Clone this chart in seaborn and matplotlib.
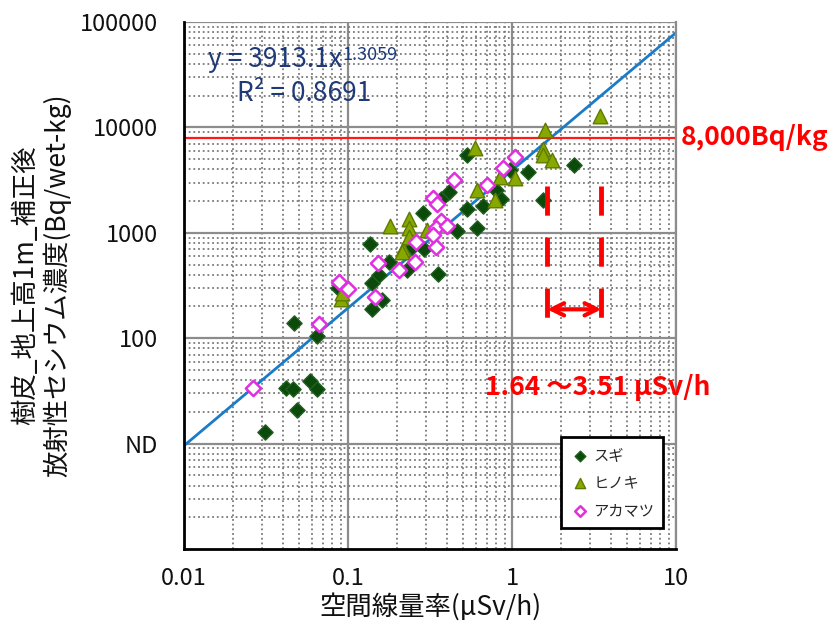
import numpy as np
import pandas as pd
import matplotlib
matplotlib.use('Agg')
import matplotlib.pyplot as plt
import seaborn as sns
from matplotlib.ticker import LogLocator, NullFormatter

sns.set_theme(style="white")
plt.rcParams['font.family'] = ['Noto Sans CJK JP', 'DejaVu Sans']

# スギ
sugi_x = [0.031, 0.047, 0.042, 0.046, 0.049, 0.059, 0.065, 0.065, 0.087, 0.137,
          0.140, 0.155, 0.161, 0.140, 0.177, 0.230, 0.292, 0.356, 0.245, 0.288,
          0.415, 0.37, 0.463, 0.614, 0.530, 0.662, 0.795, 0.86, 0.533, 0.973,
          1.26, 2.40, 1.55]
sugi_y = [13, 140, 34, 33, 21, 39, 33, 105, 297, 790,
          334, 395, 229, 191, 529, 448, 708, 410, 740, 1540,
          2420, 2070, 1030, 1110, 1690, 1780, 2530, 2070, 5510, 3910,
          3770, 4430, 2030]
# ヒノキ
hinoki_x = [0.0906, 0.092, 0.180, 0.234, 0.234, 0.217, 0.212, 0.236, 0.302, 0.594,
            0.610, 0.786, 0.845, 1.04, 1.60, 1.55, 1.55, 1.75, 3.44]
hinoki_y = [233, 270, 1150, 1360, 1100, 708, 658, 912, 1056, 6370,
            2530, 2030, 3380, 3330, 9510, 6280, 5430, 4860, 12700]
# アカマツ
akamatsu_x = [0.0264, 0.0668, 0.0886, 0.100, 0.153, 0.146, 0.260, 0.257, 0.205, 0.344,
              0.443, 0.330, 0.348, 0.37, 0.344, 0.40, 0.33, 0.70, 0.877, 1.04]
akamatsu_y = [34, 135, 342, 290, 522, 246, 818, 529, 441, 733,
              3150, 2160, 1890, 1290, 1120, 1150, 962, 2820, 4120, 5240]

fit_a, fit_b = 3913.1, 1.3059
fit_x = np.array([0.01, 10.0])
limit_y = 8000
range_lo, range_hi = 1.64, 3.51

y_ticks = [10, 100, 1000, 10000, 100000]
y_ticklabels = ['ND', '100', '1000', '10000', '100000']
x_ticks = [0.01, 0.1, 1, 10]
x_ticklabels = ['0.01', '0.1', '1', '10']

df = pd.concat([
    pd.DataFrame({'x': sugi_x, 'y': sugi_y, 'sp': 'スギ'}),
    pd.DataFrame({'x': hinoki_x, 'y': hinoki_y, 'sp': 'ヒノキ'}),
    pd.DataFrame({'x': akamatsu_x, 'y': akamatsu_y, 'sp': 'アカマツ'}),
])

fig = plt.figure(figsize=(8.38, 6.37), dpi=100)
ax = fig.add_axes([0.2196, 0.1381, 0.5871, 0.8274])
ax.set_xscale('log')
ax.set_yscale('log')
ax.set_xlim(0.01, 10)
ax.set_ylim(1, 100000)

ax.grid(which='major', color='#8c8c8c', linewidth=1.6, linestyle='-', zorder=0)
ax.grid(which='minor', color='#7a7a7a', linewidth=1.3, linestyle=(0, (1, 1.6)), zorder=0)
ax.xaxis.set_minor_locator(LogLocator(base=10, subs=np.arange(2, 10)))
ax.yaxis.set_minor_locator(LogLocator(base=10, subs=np.arange(2, 10)))
ax.xaxis.set_minor_formatter(NullFormatter())
ax.yaxis.set_minor_formatter(NullFormatter())
ax.set_axisbelow(True)

# trend line
ax.plot(fit_x, fit_a * fit_x ** fit_b, color='#1a7bc8', linewidth=2, zorder=2)

sub = df[df.sp == 'スギ']
sns.scatterplot(x=sub.x, y=sub.y, ax=ax, marker='D', s=60, color='#0b4a0b',
                edgecolor='#1f5f1f', linewidth=1, label='スギ', zorder=3)
sub = df[df.sp == 'ヒノキ']
sns.scatterplot(x=sub.x, y=sub.y, ax=ax, marker='^', s=110, color='#86a800',
                edgecolor='#5f7a00', linewidth=1, label='ヒノキ', zorder=3)
sub = df[df.sp == 'アカマツ']
sns.scatterplot(x=sub.x, y=sub.y, ax=ax, marker='D', s=60, color='#e02ee0',
                facecolor='white', edgecolor='#e02ee0', linewidth=1.8,
                label='アカマツ', zorder=4)

# 8000 Bq/kg line
ax.axhline(limit_y, color='#ff1a1a', linewidth=1.6, zorder=2)
ax.text(1.01, limit_y, '8,000Bq/kg', transform=ax.get_yaxis_transform(),
        color='#ff0000', fontsize=19, fontweight='bold', va='center', ha='left',
        clip_on=False)

# range markers
for xv in [range_lo, range_hi]:
    ax.plot([xv, xv], [2800, 148], color='#ff0000', linewidth=3.5,
            linestyle=(0, (6, 4.5)), zorder=5)
ax.annotate('', xy=(range_hi, 188), xytext=(range_lo, 188),
            arrowprops=dict(arrowstyle='<->', color='#ff0000', lw=3,
                            mutation_scale=22, shrinkA=0, shrinkB=0), zorder=5)
ax.text(0.68, 34, '1.64 ～3.51 µSv/h', color='#ff0000', fontsize=19,
        fontweight='bold', va='center', ha='left', clip_on=False)

# equation
eq = ax.text(0.0485, 0.928, 'y = 3913.1x', transform=ax.transAxes,
             color='#1f3a78', fontsize=19, va='center', ha='left')
ax.annotate('1.3059', xy=(1.0, 1.02), xycoords=eq, color='#1f3a78',
            fontsize=13, va='top', ha='left')
ax.text(0.108, 0.865, 'R² = 0.8691', transform=ax.transAxes,
        color='#1f3a78', fontsize=19, va='center', ha='left')

ax.set_xticks(x_ticks)
ax.set_xticklabels(x_ticklabels)
ax.set_yticks(y_ticks)
ax.set_yticklabels(y_ticklabels)
ax.tick_params(which='major', direction='inout', length=10, width=1.5,
               color='black', labelsize=17, labelcolor='#111111')
ax.tick_params(which='minor', direction='in', length=5, width=1.2, color='black')
ax.tick_params(axis='x', which='major', pad=8)
ax.tick_params(axis='y', which='major', pad=14)

for s in ['left', 'bottom']:
    ax.spines[s].set_color('black')
    ax.spines[s].set_linewidth(2)
ax.spines['top'].set_visible(False)
ax.spines['right'].set_color('#8c8c8c')
ax.spines['right'].set_linewidth(1.6)

ax.set_xlabel('空間線量率(μSv/h)', fontsize=19, color='#111111', labelpad=2)
ax.set_ylabel('樹皮_地上高1m_補正後\n放射性セシウム濃度(Bq/wet-kg)', fontsize=19,
              color='#111111', linespacing=1.15, labelpad=6)

leg = ax.legend(loc='lower right', bbox_to_anchor=(0.99, 0.025), fontsize=11,
                frameon=True, fancybox=False, edgecolor='black',
                markerscale=0.7, handletextpad=0.3, borderpad=0.6,
                labelspacing=0.7, handlelength=1.2)
leg.get_frame().set_linewidth(2)
leg.get_frame().set_facecolor('white')
leg.get_frame().set_alpha(1)

fig.savefig('out.png', dpi=100)
